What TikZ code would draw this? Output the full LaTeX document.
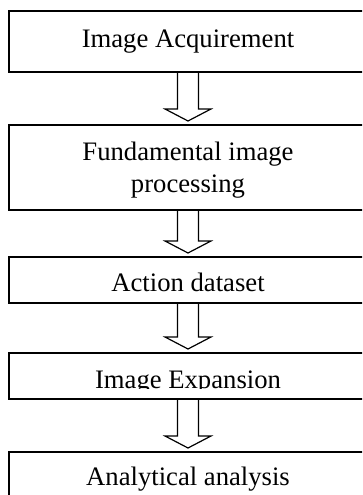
\documentclass[tikz,border=0pt]{standalone}
\usepackage{fontspec}
\setmainfont{Liberation Serif}
\usetikzlibrary{calc}

\begin{document}
\begin{tikzpicture}[x=0.75pt, y=0.75pt, b/.style={draw, line width=1.4pt, minimum width=268.5pt, outer sep=0pt, inner sep=0pt}, t/.style={anchor=base, inner sep=0pt, font=\fontsize{20}{24}\selectfont}, a/.style={draw, line width=0.9pt, line join=miter}]
	\useasboundingbox (0,0) rectangle (362,495);
	\clip (0,0) rectangle (362,495);
	\node[b, minimum height=45.75pt] (A) at (188,453.5) {};
	\node[t] (A_text) at (188,447.3) {Image Acquirement};
	\node[b, minimum height=63.75pt] (B) at (188,327.5) {};
	\node[t, align=center] (B_text) at (188,302) {Fundamental image\\processing};
	\node[b, minimum height=34.5pt] (C) at (188,215) {};
	\node[t] (C_text) at (188,203) {Action dataset};
	\node[b, minimum height=34.5pt] (D) at (188,119) {};
	\begin{scope}
		\clip (0,106.5) rectangle (362,143);
		\node[t] (D_text) at (188,106.5) {Image Expansion};
	\end{scope}
	\node[b, minimum height=60pt] (E) at (188,3) {};
	\node[t] (E_text) at (188,9) {Analytical analysis};

	\foreach \p/\q in {A/B,B/C,C/D,D/E}
		\draw[a] ($(\p.south)+(-10.5,0)$) -- ($(\q.north)+(-10.5,16)$) -- ($(\q.north)+(-23,16)$) -- ($(\q.north)+(0,4)$) -- ($(\q.north)+(23,16)$) -- ($(\q.north)+(10.5,16)$) -- ($(\p.south)+(10.5,0)$) -- cycle;
\end{tikzpicture}
\end{document}
